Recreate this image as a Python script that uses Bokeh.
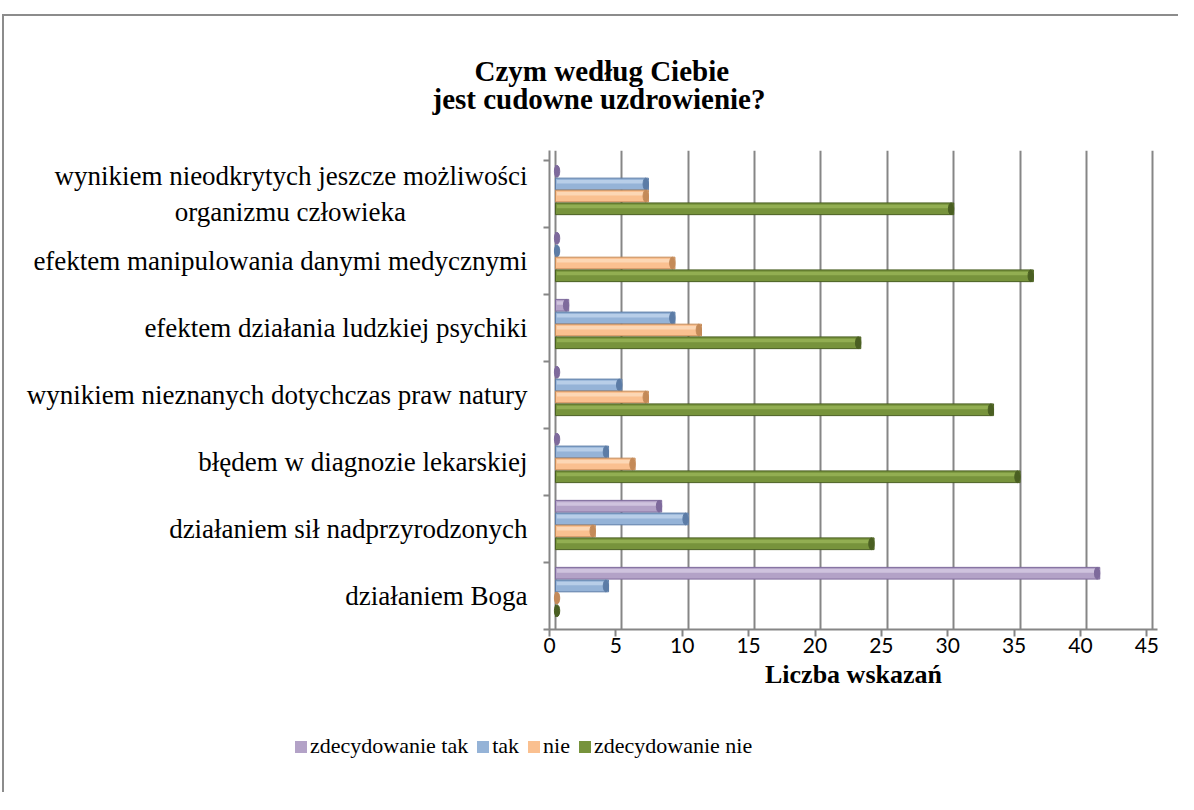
from bokeh.plotting import figure
from bokeh.layouts import column
from bokeh.models import ColumnDataSource, Div, FixedTicker, Range1d, Title
from bokeh.embed import file_html
from bokeh.resources import INLINE

# ---------------- data ----------------
categories = [
    "wynikiem nieodkrytych jeszcze możliwości\norganizmu człowieka" + "\u00a0" * 18,
    "efektem manipulowania danymi medycznymi",
    "efektem działania ludzkiej psychiki",
    "wynikiem nieznanych dotychczas praw natury",
    "błędem w diagnozie lekarskiej",
    "działaniem sił nadprzyrodzonych",
    "działaniem Boga",
]
zdecydowanie_tak = [0, 0, 1, 0, 0, 8, 41]
tak = [7, 0, 9, 5, 4, 10, 4]
nie = [7, 9, 11, 7, 6, 3, 0]
zdecydowanie_nie = [30, 36, 23, 33, 35, 24, 0]
series_names = ["zdecydowanie tak", "tak", "nie", "zdecydowanie nie"]
x_ticks = [0, 5, 10, 15, 20, 25, 30, 35, 40, 45]
title_lines = ["Czym według Ciebie", "jest cudowne uzdrowienie?"]
x_label = "Liczba wskazań"

# ---------------- styling ----------------
SERIF = "Liberation Serif"
SANS = "Lato"
GRID = "#868686"
BORDER = "2px solid #8c8c8c"
fills = ["#B3A2C7", "#95B3D7", "#FAC090", "#77933C"]
lights = ["#D6CCE3", "#C0D4EC", "#FDDCBE", "#98B557"]
edges = ["#7E6A9C", "#5C7CA6", "#C48A58", "#4A5F22"]
offsets = [0.34, 0.15, -0.03, -0.22]
bar_h = 0.175
depth = 0.45          # 3-D depth shift of the back wall (in axis units)

n = len(categories)
ypos = [n - 1 - i for i in range(n)]

p = figure(width=1176, height=688, output_backend="svg", toolbar_location=None,
           x_range=Range1d(0, 45.8), y_range=Range1d(-0.5, n - 0.35),
           min_border_left=545, min_border_right=23,
           min_border_top=134, min_border_bottom=75)
p.extra_x_ranges = {"back": Range1d(-depth, 45.8 - depth)}
p.styles = {"border-left": BORDER, "border-top": BORDER}
p.outline_line_color = None
p.background_fill_color = "white"
p.border_fill_color = "white"

values = [zdecydowanie_tak, tak, nie, zdecydowanie_nie]
for k, (name, vals) in enumerate(zip(series_names, values)):
    ys = [y + offsets[k] for y in ypos]
    src = ColumnDataSource(dict(y=ys, right=vals,
                                cap=[max(v - 0.2, 0.12) for v in vals],
                                hy=[y + 0.035 for y in ys]))
    p.hbar(y="y", left=0, right="right", height=bar_h, source=src,
           fill_color=fills[k], line_color=edges[k], line_width=1,
           x_range_name="back")
    p.hbar(y="hy", left=0.1, right="right", height=bar_h * 0.3, source=src,
           fill_color=lights[k], line_color=None, fill_alpha=0.8,
           x_range_name="back")
    p.ellipse(x="cap", y="y", width=0.4, height=bar_h, source=src,
              fill_color=edges[k], line_color=edges[k], line_width=1,
              x_range_name="back")

# x axis (front edge of the floor)
p.xaxis.ticker = FixedTicker(ticks=x_ticks)
p.xaxis.axis_line_color = GRID
p.xaxis.axis_line_width = 2
p.xaxis.major_tick_line_color = GRID
p.xaxis.major_tick_line_width = 2
p.xaxis.major_tick_in = 0
p.xaxis.major_tick_out = 7
p.xaxis.minor_tick_line_color = None
p.xaxis.major_label_text_font = SANS
p.xaxis.major_label_text_font_size = "21px"
p.xaxis.major_label_text_color = "black"
p.xaxis.major_label_standoff = 1
p.xaxis.axis_label = x_label
p.xaxis.axis_label_text_font = SERIF
p.xaxis.axis_label_text_font_style = "bold"
p.xaxis.axis_label_text_font_size = "26px"
p.xaxis.axis_label_text_color = "black"
p.xaxis.axis_label_standoff = 4

# y axis (category labels at centres, ticks at boundaries)
bounds = [y - 0.5 for y in range(n)] + [n - 0.5]
p.yaxis.ticker = FixedTicker(ticks=ypos, minor_ticks=bounds)
p.yaxis.major_label_overrides = {y: c for y, c in zip(ypos, categories)}
p.yaxis.major_tick_line_color = None
p.yaxis.minor_tick_line_color = GRID
p.yaxis.minor_tick_line_width = 2
p.yaxis.minor_tick_in = 0
p.yaxis.minor_tick_out = 6
p.yaxis.axis_line_color = GRID
p.yaxis.axis_line_width = 2
p.yaxis.major_label_text_font = SERIF
p.yaxis.major_label_text_font_size = "27px"
p.yaxis.major_label_text_color = "black"
p.yaxis.major_label_standoff = 16

# back-wall grid lines
p.xgrid.ticker = FixedTicker(ticks=x_ticks)
p.xgrid.x_range_name = "back"
p.xgrid.grid_line_color = GRID
p.xgrid.grid_line_width = 2
p.ygrid.grid_line_color = None

# two-line title, centred over the whole chart (spacer keeps it off the plot)
p.add_layout(Title(text=" ", standoff=32, text_font_size="1px"), "above")
p.add_layout(Title(text="\u00a0" * 5 + "\u2009" + title_lines[0] + "\n" + title_lines[1],
                   align="left", offset=-117, standoff=0,
                   text_font=SERIF, text_font_style="bold",
                   text_font_size="29px", text_color="black",
                   text_line_height=0.9), "above")

# ---------------- legend strip ----------------
items_html = "".join(
    '<span style="display:inline-block;white-space:nowrap;margin-right:9px">'
    f'<span style="display:inline-block;width:12px;height:12px;background:{fills[k]};'
    'margin-right:3px"></span>'
    f'{name}</span>'
    for k, name in enumerate(series_names))
legend_div = Div(
    text=('<div style="font-family:\'Liberation Serif\',serif;font-size:22px;'
          'line-height:26px;color:black;white-space:nowrap;'
          f'padding-left:291px;padding-top:31px">{items_html}</div>'),
    width=1176, height=90, margin=0)
legend_div.styles = {"border-left": BORDER, "font-family": "Liberation Serif"}

layout = column(p, legend_div, spacing=0)
layout.styles = {"margin-top": "14px", "margin-left": "2px"}

open("out.html", "w").write(file_html(layout, INLINE))
